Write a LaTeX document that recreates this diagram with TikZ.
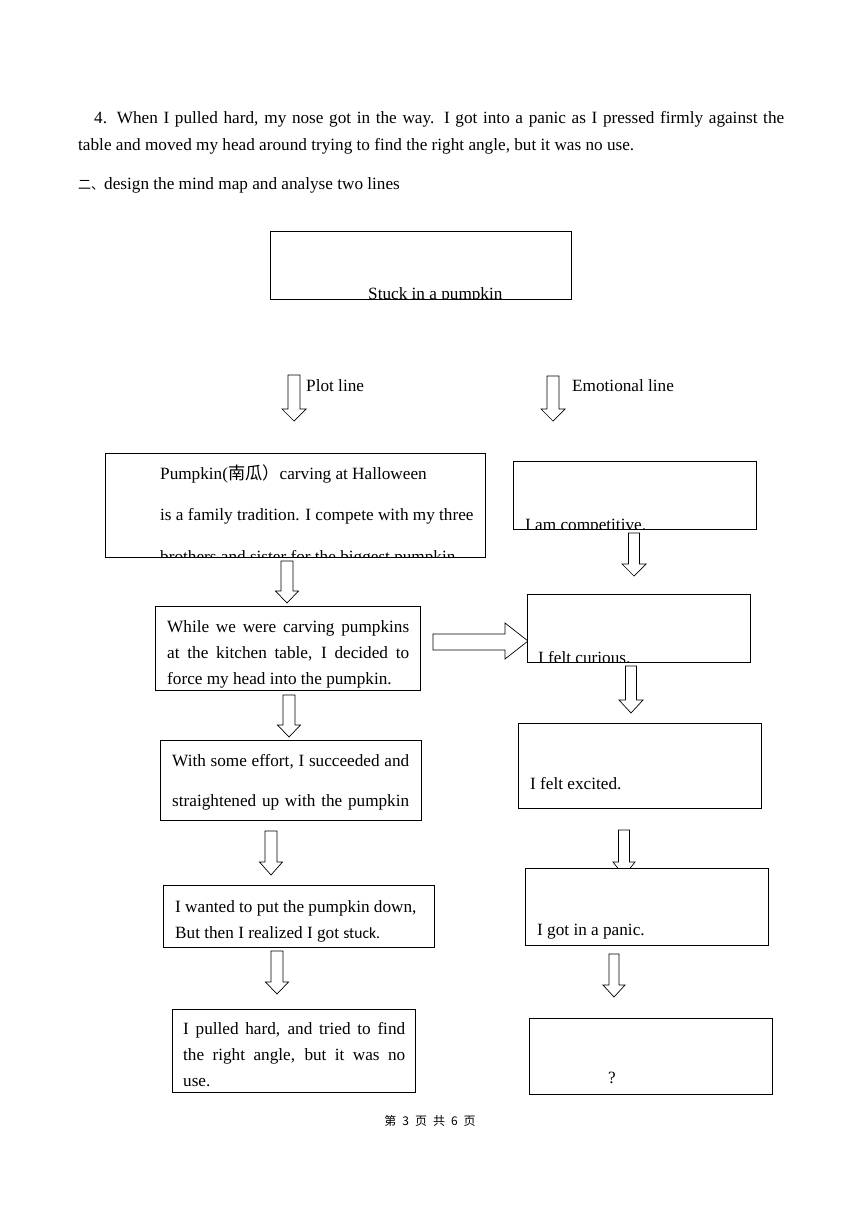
\documentclass[tikz,border=0pt]{standalone}
\usepackage{fontspec}
\setmainfont{Liberation Serif}
\newfontfamily\cjkfont{Noto Sans CJK SC}
\newfontfamily\calfont{Carlito}
\newcommand\myvarrow[6]{% x, top, headstart, tip, half shaft, half head
  \draw[blk] ({#1-#5},#2) -- ({#1+#5},#2) -- ({#1+#5},#3) -- ({#1+#6},#3) -- (#1,#4) -- ({#1-#6},#3) -- ({#1-#5},#3) -- cycle;}
\begin{document}
\begin{tikzpicture}[x=1pt,y=-1pt,
  box/.style={draw,line width=0.9pt,fill=white,inner sep=0pt,anchor=north west},
  blk/.style={draw,line width=0.7pt,fill=white,line join=miter},
  txt/.style={inner sep=0pt,anchor=base west,font=\fontsize{17.2}{20}\selectfont}]
\useasboundingbox (0,0) rectangle (860,1216);
\fill[white] (0,0) rectangle (860,1216);

% heading text
\node[txt] (p1) at (94,123) {\makebox[690pt][s]{4. When I pulled hard, my nose got in the way. I got into a panic as I pressed firmly against the}};
\node[txt] (p2) at (78,150) {table and moved my head around trying to find the right angle, but it was no use.};
\node[txt] (p3) at (78,189) {{\cjkfont\fontsize{13}{15}\selectfont 二、}design the mind map and analyse two lines};

% block arrows
\myvarrow{294}{375}{409}{421}{6}{12}
\myvarrow{553}{376}{409}{421}{6}{12}
\myvarrow{287}{561}{591}{603}{6}{11.5}
\myvarrow{289}{695}{725}{737}{6}{11.5}
\myvarrow{271}{831}{862}{875}{6}{11.5}
\myvarrow{277}{951}{982}{994}{6}{11.5}
\myvarrow{634}{533}{564}{576}{5.5}{12}
\myvarrow{631}{666}{700}{713}{5.5}{12}
\myvarrow{624}{830}{862}{876}{5.5}{11}
\myvarrow{614}{954}{985}{997}{5}{11}
\draw[blk] (433,634) -- (505,634) -- (505,623) -- (528,641) -- (505,659) -- (505,650) -- (433,650) -- cycle;

\node[txt] (pl) at (306,391) {Plot line};
\node[txt] (el) at (572,391) {Emotional line};

% boxes
\node[box,minimum width=301pt,minimum height=68pt] (T) at (270,231) {};
\node[box,minimum width=380pt,minimum height=104pt] (A) at (105,453) {};
\node[box,minimum width=243pt,minimum height=68pt] (C1) at (513,461) {};
\node[box,minimum width=265pt,minimum height=84pt] (B) at (155,606) {};
\node[box,minimum width=223pt,minimum height=68pt] (C2) at (527,594) {};
\node[box,minimum width=243pt,minimum height=85pt] (C3) at (518,723) {};
\node[box,minimum width=261pt,minimum height=80pt] (D) at (160,740) {};
\node[box,minimum width=271pt,minimum height=62pt] (E) at (163,885) {};
\node[box,minimum width=243pt,minimum height=77pt] (C4) at (525,868) {};
\node[box,minimum width=243pt,minimum height=83pt] (F) at (172,1009) {};
\node[box,minimum width=243pt,minimum height=76pt] (C5) at (529,1018) {};

% clipped texts
\begin{scope}
\clip (T.north west) rectangle (T.south east);
\node[txt] (tT) at (368,299) {Stuck in a pumpkin};
\end{scope}
\begin{scope}
\clip (A.north west) rectangle (A.south east);
\node[txt] (tA1) at (160,479) {Pumpkin({\cjkfont 南瓜）}carving at Halloween};
\node[txt] (tA2) at (160,520) {is a family tradition. I compete with my three};
\node[txt] (tA3) at (160,562) {brothers and sister for the biggest pumpkin};
\end{scope}
\begin{scope}
\clip (C1.north west) rectangle (C1.south east);
\node[txt] (tC1) at (525,530) {I am competitive.};
\end{scope}
\begin{scope}
\clip (C2.north west) rectangle (C2.south east);
\node[txt] (tC2) at (538,663) {I felt curious.};
\end{scope}

\node[txt] (tB1) at (167,632) {\makebox[242pt][s]{While we were carving pumpkins}};
\node[txt] (tB2) at (167,658) {\makebox[242pt][s]{at the kitchen table, I decided to}};
\node[txt] (tB3) at (167,684) {force my head into the pumpkin.};

\node[txt] (tC3) at (530,789) {I felt excited.};

\node[txt] (tD1) at (172,766) {\makebox[237pt][s]{With some effort, I succeeded and}};
\node[txt] (tD2) at (172,806) {\makebox[237pt][s]{straightened up with the pumpkin}};

\node[txt] (tE1) at (175,912) {I wanted to put the pumpkin down,};
\node[txt] (tE2) at (175,938) {But then I realized I got {\calfont\fontsize{15.5}{18}\selectfont stuck.}};

\node[txt] (tC4) at (537,935) {I got in a panic.};

\node[txt] (tF1) at (183,1034) {\makebox[222pt][s]{I pulled hard, and tried to find}};
\node[txt] (tF2) at (183,1060) {\makebox[222pt][s]{the right angle, but it was no}};
\node[txt] (tF3) at (183,1086) {use.};

\node[txt] (tC5) at (608,1083) {?};

\node[inner sep=0pt,anchor=base,font=\cjkfont\fontsize{12}{14}\selectfont] (foot) at (430,1125) {第\hspace{6pt}3\hspace{6pt}页\hspace{6pt}共\hspace{6pt}6\hspace{6pt}页};
\end{tikzpicture}
\end{document}
